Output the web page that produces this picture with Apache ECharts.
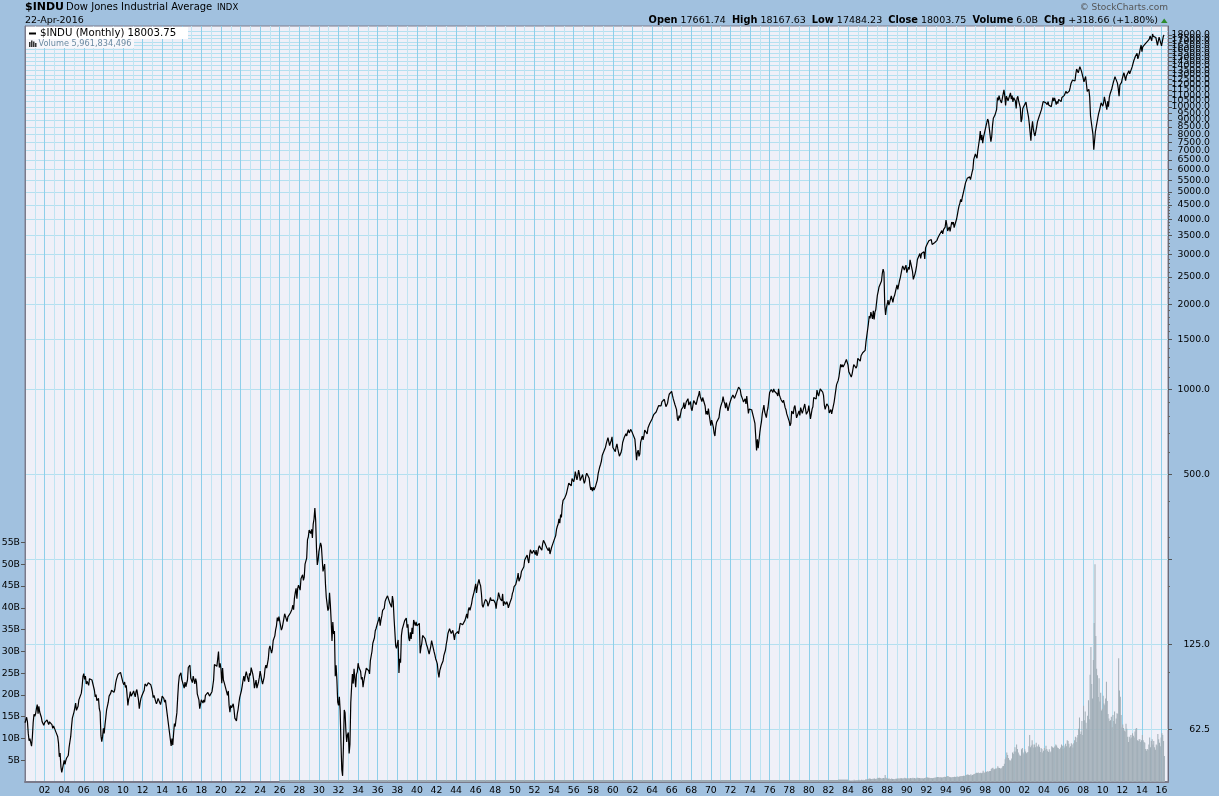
<!DOCTYPE html>
<html><head><meta charset="utf-8">
<script src="https://cdn.jsdelivr.net/npm/echarts@6/dist/echarts.min.js"></script>
<style>html,body{margin:0;padding:0;background:#a1c1df;}#c{width:1219px;height:796px;}</style>
</head><body><div id="c"></div>
<script>
// ---- DJIA monthly closes, one row per year (Jan..Dec) ----
const dj1900s = [
[66.0,67.5,69.0,66.5,60.5,57.0,58.0,57.5,54.5,58.5,66.0,70.7],
[69.5,71.0,74.0,76.5,71.0,75.5,72.0,72.5,69.0,66.5,66.0,64.6],
[66.0,65.5,66.0,67.5,66.5,65.0,66.5,67.0,66.5,65.0,63.0,64.3],
[65.0,63.5,61.0,61.5,59.0,56.0,50.0,51.5,46.0,44.0,43.5,47.0],
[48.5,47.0,48.5,49.5,49.0,50.5,54.0,56.5,59.0,64.0,68.5,69.6],
[72.0,74.5,77.5,73.0,73.5,75.5,79.5,81.0,81.5,84.0,89.0,96.2],
[98.5,94.0,96.5,90.5,92.5,91.0,89.5,94.5,95.5,94.0,93.5,94.4],
[93.5,86.0,81.5,83.0,79.0,80.0,80.5,74.0,72.0,59.5,56.5,58.8],
[63.0,60.5,65.0,69.0,73.5,74.5,78.0,82.0,81.5,84.0,86.0,86.2],
[85.0,84.5,86.5,91.0,94.0,95.0,98.0,98.5,99.0,99.5,98.0,99.0]];
const dj1910s = [
[91.5,90.0,92.0,88.0,89.5,83.0,76.0,80.0,81.5,85.0,82.0,81.4],
[84.0,85.5,83.5,81.5,85.0,86.5,85.5,79.5,74.0,77.5,80.5,82.0],
[82.0,81.5,86.0,90.5,90.5,89.0,89.5,91.5,93.0,92.0,90.0,87.9],
[85.0,81.0,82.5,80.5,78.5,77.0,78.5,80.5,80.5,79.5,76.5,78.8],
[82.0,81.5,80.5,78.0,79.5,79.5,71.4,null,null,null,null,54.6],
[58.0,55.0,60.5,65.5,64.0,68.0,71.5,81.0,90.5,96.5,97.5,99.2],
[94.0,93.5,93.5,87.5,92.0,88.5,89.0,93.5,103.5,105.0,105.5,95.0],
[95.5,91.5,96.5,93.5,90.5,94.5,92.0,83.5,84.0,79.5,74.0,74.4],
[79.5,80.5,77.5,79.5,78.0,82.5,81.5,82.5,84.5,85.5,82.0,82.2],
[81.5,85.0,89.0,93.5,106.0,106.5,107.0,104.5,111.0,118.0,103.5,107.2]];
const dj1920s = [
[102.5,91.0,103.0,93.5,91.5,90.5,87.0,86.0,82.5,85.5,76.0,71.9],
[76.0,74.5,75.5,77.0,73.5,68.5,69.0,67.0,71.0,73.5,77.5,81.1],
[81.0,85.5,89.0,93.0,96.5,92.5,97.0,100.0,97.0,96.0,92.0,98.7],
[97.0,103.5,102.5,98.0,94.0,87.5,88.0,93.5,87.5,88.5,92.0,95.5],
[100.5,97.0,93.0,90.5,89.5,96.0,102.5,105.5,103.0,104.0,111.0,120.5],
[123.5,123.0,116.5,120.0,129.0,131.0,134.0,141.0,145.5,155.5,151.0,156.7],
[157.0,154.5,140.5,143.0,142.0,154.0,160.5,162.5,158.5,150.5,156.5,157.2],
[156.5,161.5,160.0,166.5,172.0,166.0,182.0,190.5,197.5,181.5,197.5,202.4],
[198.5,194.5,213.5,216.5,220.5,210.5,216.5,240.5,239.5,252.5,293.5,300.0],
[317.5,317.5,308.5,319.5,297.5,333.5,347.5,380.3,343.5,273.5,239.0,248.5]];
const dj1930s = [
[267.0,271.0,286.0,279.0,275.0,226.5,233.5,240.5,204.5,183.5,183.0,164.6],
[167.5,190.5,172.5,151.0,128.5,150.0,136.0,139.5,96.5,105.5,93.5,78.0],
[76.0,81.5,73.0,56.0,45.0,42.8,54.3,73.2,71.6,61.9,56.4,59.9],
[60.9,51.4,55.4,77.7,88.1,98.1,90.8,102.4,94.8,88.2,98.1,99.9],
[107.2,103.5,101.9,100.5,94.0,95.7,88.1,92.6,92.6,93.5,103.0,104.0],
[101.7,100.8,98.3,109.5,110.6,118.2,126.2,127.0,131.9,139.7,142.3,144.1],
[149.5,152.5,156.3,145.7,152.6,157.7,164.9,166.3,167.8,177.2,180.7,179.9],
[185.7,187.2,186.4,174.3,174.7,169.3,185.5,177.4,154.6,138.5,123.5,121.0],
[121.9,129.6,99.0,111.2,107.7,133.9,141.2,139.3,141.5,151.7,149.8,154.8],
[143.3,147.3,131.8,128.5,138.0,130.6,143.0,136.2,152.5,151.9,145.7,150.2]];
const dj1940s = [
[145.3,146.5,147.5,148.4,116.2,121.9,126.1,134.4,132.6,133.0,131.0,131.1],
[124.1,121.8,122.7,115.5,115.3,123.1,128.8,127.4,126.8,117.8,114.7,111.0],
[109.1,106.6,99.5,95.4,100.9,103.3,105.7,106.3,109.1,114.1,114.5,119.4],
[125.4,130.0,136.6,135.5,142.1,143.4,136.6,137.6,140.1,138.3,129.6,135.9],
[137.4,136.3,138.8,136.2,142.2,148.4,146.1,146.7,146.7,146.5,147.3,152.3],
[153.8,160.4,154.4,165.4,169.1,164.9,162.9,174.3,181.7,186.6,191.5,192.9],
[204.7,190.1,199.8,206.8,212.5,205.6,201.6,189.2,172.4,169.2,169.8,177.2],
[180.4,178.9,177.2,170.6,169.8,177.3,183.2,178.9,177.5,181.8,179.4,181.2],
[175.0,167.3,177.2,180.9,190.7,189.5,181.3,181.7,178.3,188.6,171.2,177.3],
[179.1,173.1,177.1,174.1,168.4,167.4,175.9,178.7,182.5,189.5,193.0,200.1]];
const dj1950s = [
[201.8,203.4,206.1,214.3,223.4,209.1,209.4,216.9,226.4,225.0,227.6,235.4],
[248.8,252.1,247.9,259.1,249.7,242.6,257.9,270.3,271.2,262.4,261.3,269.2],
[270.7,260.1,269.5,257.6,262.9,274.3,279.6,275.0,271.0,269.2,283.7,291.9],
[289.8,284.3,280.0,274.8,272.3,268.3,275.4,261.2,264.0,276.0,281.4,280.9],
[292.4,294.5,303.5,319.3,327.5,333.5,347.9,335.8,360.5,352.1,386.8,404.4],
[408.8,411.9,409.7,425.7,424.9,451.4,465.9,468.2,466.6,454.9,483.3,488.4],
[470.7,483.7,511.8,516.1,478.1,492.8,517.8,502.0,475.3,479.9,472.8,499.5],
[479.2,464.6,474.8,494.4,505.0,503.3,508.5,484.4,456.3,441.0,449.9,435.7],
[450.0,439.9,446.8,455.9,463.0,478.2,502.9,508.6,532.1,543.2,557.5,583.7],
[593.9,603.5,601.7,623.8,643.8,643.6,674.9,664.4,632.0,646.6,659.2,679.4]];
const dj1960s = [
[622.6,630.1,616.6,601.7,625.5,640.6,616.7,625.9,580.1,580.4,597.2,615.9],
[648.2,662.1,676.6,678.7,696.7,683.9,705.4,719.9,701.2,703.9,721.6,731.1],
[700.0,708.1,706.9,665.3,613.4,561.3,597.9,609.2,578.9,589.8,649.3,652.1],
[683.0,662.9,682.5,718.0,726.9,706.9,695.4,729.3,732.8,755.2,750.5,762.9],
[785.3,800.1,813.3,810.8,820.6,831.5,841.1,838.5,875.4,873.1,875.4,874.1],
[902.9,903.5,889.1,922.3,918.0,868.0,881.7,893.1,930.6,960.8,946.7,969.3],
[983.5,951.9,924.8,933.7,884.1,870.1,847.4,788.4,774.2,807.1,791.6,785.7],
[849.9,839.4,865.9,897.1,852.6,860.3,904.2,901.3,926.7,879.7,875.8,905.1],
[855.5,840.5,840.7,912.2,899.0,897.8,883.0,896.0,935.8,952.4,985.1,943.8],
[946.1,905.2,935.5,950.2,937.6,873.2,815.5,836.7,813.1,855.0,812.3,800.4]];
const dj1970s = [
[744.1,777.6,785.6,736.1,700.4,683.5,734.1,764.6,760.7,755.6,794.1,838.9],
[868.5,878.8,904.4,941.8,907.8,891.1,858.4,898.1,887.2,839.0,831.3,890.2],
[902.2,928.1,940.7,954.2,960.7,929.0,924.7,963.7,953.3,956.6,1018.2,1020.0],
[999.0,955.1,951.0,921.4,901.4,891.7,926.4,888.0,947.1,956.6,822.3,850.9],
[855.6,860.5,846.7,836.8,802.2,802.4,757.4,678.6,607.9,665.5,618.7,616.2],
[703.7,739.1,768.2,821.3,832.3,878.9,831.5,835.3,793.9,836.0,860.7,852.4],
[975.3,972.6,999.5,996.9,975.2,1002.8,984.6,973.7,990.2,964.9,947.2,1004.7],
[954.4,936.4,919.1,926.9,898.7,916.3,890.1,861.5,847.1,818.4,829.7,831.2],
[769.9,742.1,757.4,837.3,840.6,819.0,862.3,876.8,865.8,792.5,799.0,805.0],
[839.2,808.8,862.2,855.0,822.3,841.9,846.4,887.6,878.6,815.7,822.4,838.7]];
const dj1980s = [
[875.9,863.1,785.8,817.1,850.9,867.9,935.3,932.6,932.4,924.5,993.3,964.0],
[947.3,974.6,1003.9,997.8,991.8,976.9,952.3,881.5,850.0,853.2,888.9,875.0],
[871.1,824.4,822.8,848.4,819.5,811.9,808.6,901.3,896.3,991.7,1039.3,1046.5],
[1075.7,1112.6,1130.0,1226.2,1199.9,1222.0,1199.2,1216.2,1233.1,1225.2,1276.0,1258.6],
[1220.6,1154.6,1164.9,1170.8,1104.9,1132.4,1115.3,1224.4,1206.7,1207.4,1188.9,1211.6],
[1286.8,1284.0,1266.8,1258.1,1315.4,1335.5,1347.5,1334.0,1328.6,1374.3,1472.1,1546.7],
[1571.0,1709.1,1818.6,1784.0,1876.7,1892.7,1775.3,1898.3,1767.6,1877.8,1914.2,1896.0],
[2158.0,2224.0,2304.7,2286.4,2291.6,2418.5,2572.1,2663.0,2596.3,1993.5,1833.6,1938.8],
[1958.2,2071.6,1988.1,2032.3,2031.1,2141.7,2128.7,2031.7,2112.9,2148.7,2114.5,2168.6],
[2342.3,2258.4,2293.6,2418.8,2480.2,2440.1,2660.7,2737.3,2692.8,2645.1,2706.3,2753.2]];
const dj1990s = [
[2590.5,2627.3,2707.2,2656.8,2876.7,2880.7,2905.2,2614.4,2452.5,2442.3,2559.7,2633.7],
[2736.4,2882.2,2913.9,2887.9,3027.5,2906.8,3024.8,3043.6,3016.8,3069.1,2894.7,3168.8],
[3223.4,3267.7,3235.5,3359.1,3396.9,3318.5,3393.8,3257.4,3271.7,3226.3,3305.2,3301.1],
[3310.0,3370.8,3435.1,3427.6,3527.4,3516.1,3539.5,3651.3,3555.1,3680.6,3684.0,3754.1],
[3978.4,3832.0,3636.0,3681.7,3758.4,3625.0,3764.5,3913.4,3843.2,3908.1,3739.2,3834.4],
[3843.9,4011.1,4157.7,4321.3,4465.1,4556.1,4708.5,4610.6,4789.1,4755.5,5074.5,5117.1],
[5395.3,5485.6,5587.1,5569.1,5643.2,5654.6,5528.9,5616.2,5882.2,6029.4,6521.7,6448.3],
[6813.1,6877.7,6583.5,7009.0,7331.0,7672.8,8222.6,7622.4,7945.3,7442.1,7823.1,7908.3],
[7906.5,8545.7,8799.8,9063.4,8900.0,8952.0,8883.3,7539.1,7842.6,8592.1,9116.6,9181.4],
[9358.8,9306.6,9786.2,10789.0,10559.7,10970.8,10655.2,10829.3,10337.0,10729.9,10877.8,11497.1]];
const dj2000s = [
[10940.5,10128.3,10921.9,10733.9,10522.3,10447.9,10522.0,11215.1,10650.9,10971.1,10414.5,10786.9],
[10887.4,10495.3,9878.8,10735.0,10911.9,10502.4,10522.8,9949.8,8847.6,9075.1,9851.6,10021.5],
[9920.0,10106.1,10403.9,9946.2,9925.3,9243.3,8736.6,8663.5,7591.9,8397.0,8896.1,8341.6],
[8053.8,7891.1,7992.1,8480.1,8850.3,8985.4,9233.8,9415.8,9275.1,9801.1,9782.5,10453.9],
[10488.1,10583.9,10357.7,10225.6,10188.5,10435.5,10139.7,10173.9,10080.3,10027.5,10428.0,10783.0],
[10489.9,10766.2,10503.8,10192.5,10467.5,10275.0,10640.9,10481.6,10568.7,10440.1,10805.9,10717.5],
[10864.9,10993.4,11109.3,11367.1,11168.3,11150.2,11185.7,11381.2,11679.1,12080.7,12221.9,12463.2],
[12621.7,12268.6,12354.4,13062.9,13627.6,13408.6,13212.0,13357.7,13895.6,13930.0,13371.7,13264.8],
[12650.4,12266.4,12262.9,12820.1,12638.3,11350.0,11378.0,11543.6,10850.7,9325.0,8829.0,8776.4],
[8000.9,7062.9,7608.9,8168.1,8500.3,8447.0,9171.6,9496.3,9712.3,9712.7,10344.8,10428.1]];
const dj2010s = [
[10067.3,10325.3,10856.6,11008.6,10136.6,9774.0,10465.9,10014.7,10788.1,11118.5,11006.0,11577.5],
[11891.9,12226.3,12319.7,12810.5,12569.8,12414.3,12143.2,11613.5,10913.4,11955.0,12045.7,12217.6],
[12632.9,12952.1,13212.0,13213.6,12393.5,12880.1,13008.7,13090.8,13437.1,13096.5,13025.6,13104.1],
[13860.6,14054.5,14578.5,14839.8,15115.6,14909.6,15499.5,14810.3,15129.7,15545.8,16086.4,16576.7],
[15698.9,16321.7,16457.7,16580.8,16717.2,16826.6,16563.3,17098.5,17042.9,17390.5,17828.2,17823.1],
[17165.0,18132.7,17776.1,17840.5,18010.7,17619.5,17689.9,16528.0,16284.7,17663.5,17719.9,17425.0],
[16466.3,16516.5,17685.1,18003.75]];

// ---- Monthly volume (billions of shares), one row per year ----
const vol1980s = [ // 1984..1989
[0.35,0.38,0.36,0.34,0.36,0.35,0.37,0.50,0.40,0.42,0.40,0.41],
[0.48,0.50,0.45,0.42,0.50,0.47,0.52,0.45,0.46,0.55,0.60,0.62],
[0.70,0.72,0.80,0.75,0.68,0.70,0.72,0.75,0.78,0.70,0.75,0.72],
[0.95,0.90,0.98,0.92,0.80,0.82,0.85,0.90,0.88,1.60,0.95,0.85],
[0.80,0.75,0.78,0.70,0.68,0.82,0.70,0.68,0.66,0.70,0.72,0.74],
[0.80,0.78,0.82,0.80,0.85,0.84,0.80,0.88,0.82,0.95,0.85,0.82]];
const vol1990s = [
[0.90,0.82,0.84,0.80,0.92,0.88,0.85,0.95,0.85,0.90,0.82,0.85],
[0.95,1.00,0.92,0.90,0.88,0.85,0.86,0.84,0.82,0.90,0.92,1.05],
[1.10,1.05,0.95,0.98,0.90,0.92,0.94,0.88,0.90,0.95,1.00,1.02],
[1.10,1.15,1.12,1.08,1.05,1.10,1.02,1.05,1.10,1.15,1.20,1.15],
[1.25,1.30,1.35,1.20,1.15,1.10,1.05,1.12,1.10,1.15,1.18,1.15],
[1.20,1.18,1.25,1.15,1.25,1.30,1.35,1.30,1.35,1.45,1.40,1.48],
[1.60,1.65,1.70,1.65,1.60,1.55,1.80,1.50,1.60,1.75,1.85,1.90],
[2.00,2.10,2.05,2.20,2.00,2.05,2.10,2.00,2.10,2.60,2.20,2.15],
[2.40,2.30,2.45,2.40,2.35,2.50,2.55,3.00,3.20,3.30,2.90,2.90],
[3.10,3.00,3.20,3.60,3.30,3.20,3.10,3.10,3.30,3.60,3.70,4.20]];
const vol2000s = [
[5.20,5.60,6.80,6.20,5.50,5.10,4.80,5.00,5.40,6.80,6.50,7.00],
[8.00,7.00,8.60,7.60,6.80,6.30,6.00,6.00,7.50,7.80,6.80,6.40],
[7.50,7.00,6.60,6.80,6.90,8.20,10.80,8.00,8.40,9.60,8.60,7.90],
[8.60,8.00,9.00,8.20,8.10,8.60,8.10,6.90,7.80,7.60,6.80,7.20],
[7.80,7.40,8.30,7.60,7.20,6.90,7.50,6.80,7.00,8.20,8.00,7.80],
[8.00,8.20,8.60,8.40,7.90,7.80,7.50,7.60,7.90,8.60,8.30,7.60],
[8.40,7.90,8.80,8.20,9.60,9.40,8.80,7.90,8.20,8.90,8.60,7.90],
[8.90,9.60,10.40,9.20,10.20,10.80,12.20,14.80,11.00,11.60,14.00,10.80],
[17.50,14.20,16.20,13.60,12.20,15.20,18.80,14.40,24.60,31.00,22.50,19.20],
[28.00,36.50,50.00,33.50,26.00,24.50,19.50,23.80,18.50,20.50,16.40,16.80]];
const vol2010s = [
[19.80,18.00,17.60,19.20,23.00,18.60,15.60,14.60,14.00,14.20,15.00,12.60],
[15.40,14.00,16.20,13.40,14.60,15.80,15.60,28.40,21.00,19.60,15.40,12.50],
[13.20,12.40,11.80,11.60,13.40,12.20,10.40,9.20,10.40,10.00,10.80,10.20],
[11.20,10.60,10.20,11.60,12.20,12.40,9.60,9.40,9.80,9.80,9.20,9.60],
[10.80,9.60,9.20,9.00,7.60,7.20,7.60,7.40,8.60,10.20,8.00,9.40],
[9.80,8.60,9.40,8.00,7.40,8.60,8.40,11.00,9.80,9.00,8.20,10.20],
[11.20,10.80,9.40,5.96]];
// annual average monthly volume 1926..1983 (billions)
const volEarly = [0.04,0.05,0.08,0.10,0.07,0.05,0.04,0.06,0.04,0.04,
0.05,0.04,0.03,0.03,0.02,0.02,0.01,0.03,0.03,0.04,
0.04,0.03,0.03,0.03,0.05,0.04,0.03,0.03,0.05,0.06,
0.05,0.05,0.06,0.07,0.07,0.08,0.08,0.08,0.09,0.10,
0.12,0.14,0.16,0.14,0.13,0.16,0.17,0.15,0.13,0.17,
0.20,0.18,0.24,0.27,0.36,0.37,0.40,0.55];

// ---- axis tick values / labels ----
const priceLabelValues = [62.5,125,500,1000,1500,2000,2500,3000,3500,4000,4500,5000,5500,6000,6500,7000,7500,8000,8500,9000,9500,10000,10500,11000,11500,12000,12500,13000,13500,14000,14500,15000,15500,16000,16500,17000,17500,18000,18500];
const priceGridValues = [62.5,125,250].concat(priceLabelValues.slice(2));
const priceMinorTicks = [100,200,300,400,600,700,800,900,1100,1200,1300,1400,1600,1700,1800,1900,2100,2200,2300,2400,2600,2700,2800,2900,3100,3200,3300,3400,3600,3700,3800,3900,4100,4200,4300,4400,4600,4700,4800,4900];
const volumeTickValues = [5,10,15,20,25,30,35,40,45,50,55];
const yearTicks = []; for (let y = 1900; y <= 2016; y++) yearTicks.push(y);
const yearLabelValues = yearTicks.filter(y => y >= 1902 && y % 2 === 0);

// ---- build series data ----
const priceData = [];
[[1900,dj1900s],[1910,dj1910s],[1920,dj1920s],[1930,dj1930s],[1940,dj1940s],[1950,dj1950s],
 [1960,dj1960s],[1970,dj1970s],[1980,dj1980s],[1990,dj1990s],[2000,dj2000s],[2010,dj2010s]]
 .forEach(([y0, rows]) => rows.forEach((row, i) => row.forEach((v, m) => {
   if (v !== null) priceData.push([y0 + i + m / 12, v]);
 })));
const volData = [];
[[1984,vol1980s],[1990,vol1990s],[2000,vol2000s],[2010,vol2010s]]
 .forEach(([y0, rows]) => rows.forEach((row, i) => row.forEach((v, m) => {
   volData.push([y0 + i + m / 12 + 1 / 24, v]);
 })));
const volEarlyData = volEarly.map((v, i) => [1926 + i + 0.5, v]);

const FONT = 'DejaVu Sans';
const chart = echarts.init(document.getElementById('c'), null, {renderer: 'canvas'});
const option = {
  animation: false,
  backgroundColor: '#a1c1df',
  textStyle: {fontFamily: FONT},
  grid: {left: 25, right: 51, top: 26, bottom: 14, show: true, backgroundColor: '#eff0f8',
         borderColor: '#7c7c8c', borderWidth: 1, containLabel: false, outerBoundsMode: 'none'},
  xAxis: [{
    type: 'value', min: 1900, max: 2016.66, position: 'bottom',
    axisLine: {show: true, onZero: false, lineStyle: {color: '#7a7a8a', width: 2}},
    axisTick: {show: false, customValues: yearTicks},
    axisLabel: {customValues: yearLabelValues, color: '#000', fontSize: 9.3, fontFamily: FONT, margin: 4,
      formatter: v => { const y = Math.round(v) % 100; return (y < 10 ? '0' : '') + y; }},
    splitLine: {show: true, lineStyle: {color: ['#8ecfea', '#bfe4f2'], width: 1}}
  }, {
    type: 'value', min: 1900, max: 2016.66, show: false
  }],
  yAxis: [{
    type: 'log', min: 40.7, max: 19350, position: 'right',
    axisLine: {show: true, lineStyle: {color: '#6a6a7a', width: 1}},
    axisTick: {show: true, customValues: priceGridValues, length: 4, lineStyle: {color: '#555'}},
    axisLabel: {customValues: priceLabelValues, align: 'right', margin: 42, color: '#000',
      fontSize: 9.3, fontFamily: FONT, formatter: v => Number(v).toFixed(1)},
    splitLine: {show: true, lineStyle: {color: '#b4e0f0', width: 1}}
  }, {
    type: 'value', min: 0, max: 173.6, position: 'left',
    axisLine: {show: true, lineStyle: {color: '#7a7a8a'}},
    axisTick: {show: true, customValues: volumeTickValues, length: 4, lineStyle: {color: '#555'}},
    axisLabel: {customValues: volumeTickValues, margin: 5, color: '#000', fontSize: 9.3, fontFamily: FONT,
      formatter: v => v + 'B'},
    splitLine: {show: false}
  }, {
    type: 'log', min: 40.7, max: 19350, position: 'right',
    axisLine: {show: false},
    axisTick: {show: true, customValues: priceMinorTicks, length: 2, lineStyle: {color: '#666'}},
    axisLabel: {show: false},
    splitLine: {show: false}
  }],
  series: [{
    name: 'Volume early', type: 'bar', xAxisIndex: 1, yAxisIndex: 1, data: volEarlyData,
    barWidth: 10, barMinHeight: 2, itemStyle: {color: '#9eacb5'}, silent: true
  }, {
    name: 'Volume', type: 'bar', xAxisIndex: 0, yAxisIndex: 1, data: volData,
    barWidth: 1, itemStyle: {color: '#a0adb6'}, silent: true
  }, {
    name: '$INDU', type: 'line', xAxisIndex: 0, yAxisIndex: 0, data: priceData,
    showSymbol: false, symbol: 'none', lineStyle: {color: '#000', width: 1.2}, z: 5, silent: true
  }],
  graphic: [
    {type: 'text', x: 25, y: 7, style: {text: '$INDU', fill: '#000', font: 'bold 11px "DejaVu Sans"', textVerticalAlign: 'middle', verticalAlign: 'middle'}},
    {type: 'text', x: 66, y: 7, style: {text: 'Dow Jones Industrial Average', fill: '#000', font: '10px "DejaVu Sans"', textVerticalAlign: 'middle', verticalAlign: 'middle'}},
    {type: 'text', x: 217, y: 7.5, style: {text: 'INDX', fill: '#000', font: '8.5px "DejaVu Sans"', textVerticalAlign: 'middle', verticalAlign: 'middle'}},
    {type: 'text', x: 25, y: 20.5, style: {text: '22-Apr-2016', fill: '#000', font: '9.5px "DejaVu Sans"', textVerticalAlign: 'middle', verticalAlign: 'middle'}},
    {type: 'text', x: 1168, y: 7.5, style: {text: '\u00a9 StockCharts.com', fill: '#555', font: '9px "DejaVu Sans"', textAlign: 'right', align: 'right', textVerticalAlign: 'middle', verticalAlign: 'middle'}},
    {type: 'text', x: 1158, y: 20.5, style: {
      text: '{b|Open} 17661.74  {b|High} 18167.63  {b|Low} 17484.23  {b|Close} 18003.75  {b|Volume} 6.0B  {b|Chg} +318.66 (+1.80%)',
      fill: '#000', fontSize: 9.5, fontFamily: FONT, textAlign: 'right', align: 'right', textVerticalAlign: 'middle', verticalAlign: 'middle',
      rich: {b: {fontWeight: 'bold', fontSize: 9.8, fontFamily: FONT, fill: '#000'}}}},
    {type: 'polygon', shape: {points: [[1161, 23], [1167.5, 23], [1164.2, 18.5]]}, style: {fill: '#2e8b2e'}},
    {type: 'rect', shape: {x: 26, y: 27, width: 162, height: 12}, style: {fill: '#ffffff'}, z: 10},
    {type: 'rect', shape: {x: 26, y: 39, width: 108, height: 9}, style: {fill: '#f7f7fb'}, z: 10},
    {type: 'rect', shape: {x: 29, y: 32.5, width: 7, height: 2}, style: {fill: '#000'}, z: 11},
    {type: 'text', x: 40, y: 33.5, z: 11, style: {text: '$INDU (Monthly) 18003.75', fill: '#000', font: '10.2px "DejaVu Sans"', textVerticalAlign: 'middle', verticalAlign: 'middle'}},
    {type: 'rect', shape: {x: 29, y: 42, width: 1.5, height: 5}, style: {fill: '#333'}, z: 11},
    {type: 'rect', shape: {x: 31, y: 40.5, width: 1.5, height: 6.5}, style: {fill: '#333'}, z: 11},
    {type: 'rect', shape: {x: 33, y: 41.5, width: 1.5, height: 5.5}, style: {fill: '#333'}, z: 11},
    {type: 'rect', shape: {x: 35, y: 43, width: 1.5, height: 4}, style: {fill: '#333'}, z: 11},
    {type: 'text', x: 38.5, y: 44, z: 11, style: {text: 'Volume 5,961,834,496', fill: '#6a8aa2', font: '8.2px "DejaVu Sans"', textVerticalAlign: 'middle', verticalAlign: 'middle'}}
  ]
};
chart.setOption(option);
</script>
</body></html>
